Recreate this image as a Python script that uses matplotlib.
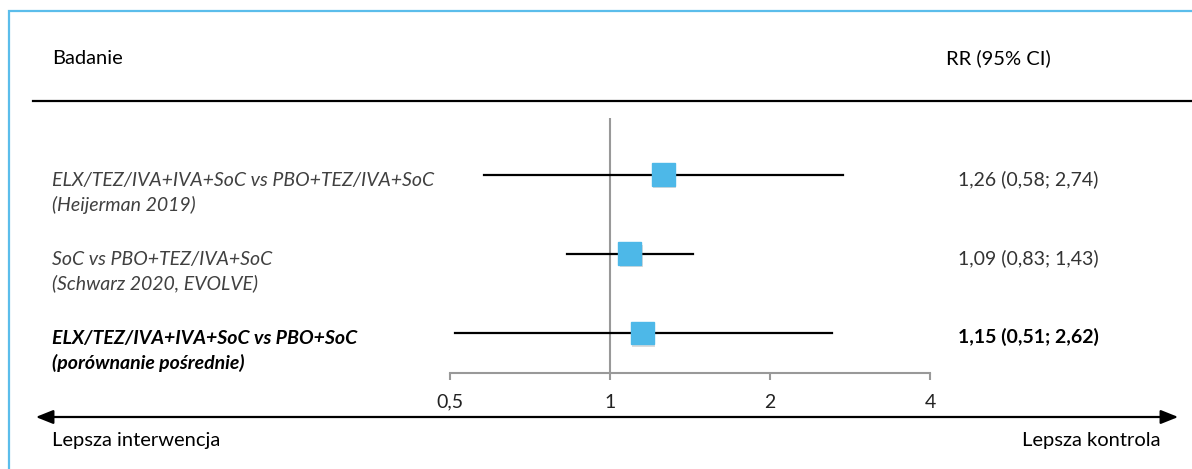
import matplotlib
matplotlib.use("Agg")
import matplotlib.pyplot as plt
import matplotlib.patheffects as pe
from matplotlib.patches import Rectangle, FancyArrowPatch
from matplotlib.lines import Line2D

# data
studies = [
    ("ELX/TEZ/IVA+IVA+SoC vs PBO+TEZ/IVA+SoC", "(Heijerman 2019)"),
    ("SoC vs PBO+TEZ/IVA+SoC", "(Schwarz 2020, EVOLVE)"),
    ("ELX/TEZ/IVA+IVA+SoC vs PBO+SoC", "(porównanie pośrednie)"),
]
rr = [1.26, 1.09, 1.15]
ci_low = [0.58, 0.83, 0.51]
ci_high = [2.74, 1.43, 2.62]
bold_row = [False, False, True]
ticks = [0.5, 1, 2, 4]
tick_labels = ["0,5", "1", "2", "4"]

plt.rcParams['font.family'] = ['Lato', 'DejaVu Sans']

W, H = 1192, 469
fig = plt.figure(figsize=(W / 100, H / 100), dpi=100)


def fx(px):
    return px / W


def fy(py):
    return 1 - py / H


# forest plot axes: 0.5 at x=450, 4 at x=930, axis line at y=373, top at y=118
ax = fig.add_axes([fx(450), fy(373), fx(930) - fx(450), fy(118) - fy(373)])
ax.set_xscale('log')
ax.set_xlim(0.5, 4)
ax.set_ylim(0.494, 3.72)
ax.patch.set_alpha(0)

for s in ['left', 'top', 'right']:
    ax.spines[s].set_visible(False)
ax.spines['bottom'].set_color('#999999')
ax.spines['bottom'].set_linewidth(1.5)
ax.set_yticks([])
ax.set_xticks(ticks)
ax.set_xticklabels(tick_labels)
ax.minorticks_off()
ax.tick_params(axis='x', direction='out', length=5, width=1.5, color='#999999',
               labelsize=14, labelcolor='#222222', pad=10)

ax.axvline(1, color='#999999', lw=1.5, zorder=1)

n = len(rr)
ypos = [n - i for i in range(n)]
trans = ax.get_yaxis_transform()
xl = (52 - 450) / 480
xv = (958 - 450) / 480
for i in range(n):
    y = ypos[i]
    ax.plot([ci_low[i], ci_high[i]], [y, y], color='black', lw=1.6, zorder=2, clip_on=False)
    ax.plot([rr[i]], [y], marker='s', markersize=16.5, color='#4DB8E8',
            markeredgecolor='#4DB8E8', zorder=3, clip_on=False,
            path_effects=[pe.SimplePatchShadow(offset=(1, -1.5), shadow_rgbFace='#888888', alpha=0.3),
                          pe.Normal()])

    if bold_row[i]:
        kw = dict(style='italic', weight='bold', color='black')
        vkw = dict(weight='bold', color='black')
    else:
        kw = dict(style='italic', color='#404040')
        vkw = dict(color='#333333')
    ax.text(xl, y + 0.04, studies[i][0] + "\n" + studies[i][1], transform=trans,
            ha='left', va='top', fontsize=14, linespacing=1.45, clip_on=False, **kw)
    ax.text(xv, y - 0.05, f"{rr[i]:.2f} ({ci_low[i]:.2f}; {ci_high[i]:.2f})".replace('.', ','),
            transform=trans, ha='left', va='center', fontsize=14, clip_on=False, **vkw)

# header
fig.text(fx(52), fy(58), "Badanie", ha='left', va='center', fontsize=14.5, color='black')
fig.text(fx(946), fy(58), "RR (95% CI)", ha='left', va='center', fontsize=14.5, color='black')
fig.add_artist(Line2D([fx(33), fx(1192)], [fy(101), fy(101)], color='black', lw=1.6))

# bottom double arrow
arrow = FancyArrowPatch((fx(33), fy(417)), (fx(1181), fy(417)), transform=fig.transFigure,
                        arrowstyle='<|-|>,head_length=0.75,head_width=0.3', color='black',
                        lw=1.6, mutation_scale=14)
fig.add_artist(arrow)
fig.text(fx(52), fy(440), "Lepsza interwencja", ha='left', va='center', fontsize=14.5, color='black')
fig.text(fx(1160), fy(440), "Lepsza kontrola", ha='right', va='center', fontsize=14.5, color='black')

# light blue frame
fig.add_artist(Rectangle((fx(9), -0.1), 1.2, fy(11) + 0.1, transform=fig.transFigure,
                         fill=False, edgecolor='#5BBDEB', lw=1.6))

fig.savefig("out.png", dpi=100)
